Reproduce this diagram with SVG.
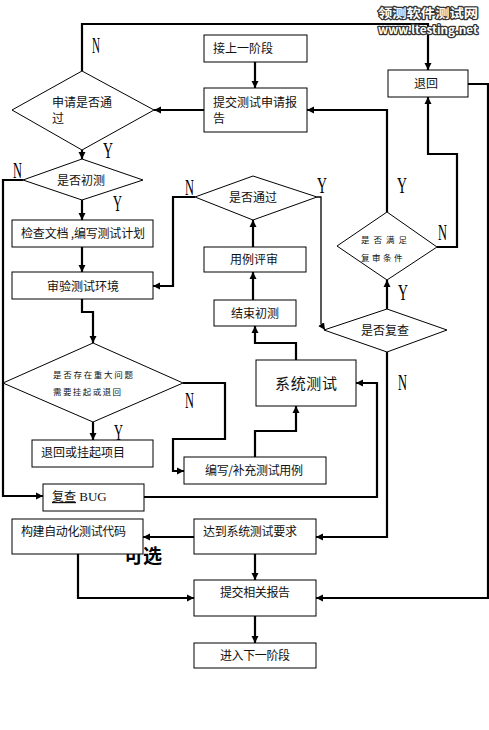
<svg xmlns="http://www.w3.org/2000/svg" width="489" height="730" viewBox="0 0 489 730">
<style>
.bg{fill:#fff}
.box{fill:#fff;stroke:#000;stroke-width:1}
.dia{fill:#fff;stroke:#000;stroke-width:1}
.t{font-family:"Noto Sans CJK SC","Noto Sans CJK JP",sans-serif;font-size:12px;fill:#111}
.ts{font-family:"Noto Sans CJK SC",sans-serif;font-size:8.5px;fill:#111}
.tb{font-family:"Noto Sans CJK SC",sans-serif;font-size:15px;fill:#111}
.c{fill:none;stroke:#000;stroke-width:2.2}
.ct{fill:none;stroke:#000;stroke-width:1.3}
.yn{font-family:"Liberation Serif",serif;font-size:24px;fill:#000}
.wm{font-family:"Noto Sans CJK SC",sans-serif;font-weight:bold;fill:#fff;stroke:#333;stroke-width:2.5;paint-order:stroke;stroke-linejoin:round}
</style>
<defs>
<marker id="ah" markerUnits="userSpaceOnUse" markerWidth="8" markerHeight="8" refX="7" refY="4" orient="auto">
<path d="M0,0.5 L7,4 L0,7.5 z" fill="#000"/>
</marker>
</defs>
<rect class="bg" x="0" y="0" width="489" height="730"/>

<g id="connectors">
<polyline class="c" points="82,71 82,24 428,24 428,70" marker-end="url(#ah)"/>
<polyline class="c" points="255,62 255,88" marker-end="url(#ah)"/>
<polyline class="c" points="204,110 154,110" marker-end="url(#ah)"/>
<polyline class="c" points="82,150 82,159" marker-end="url(#ah)"/>
<polyline class="c" points="23,180 3,180 3,496 43,496" marker-end="url(#ah)"/>
<polyline class="c" points="82,200 82,220" marker-end="url(#ah)"/>
<polyline class="c" points="82,247 82,272" marker-end="url(#ah)"/>
<polyline class="c" points="82,299 82,312 93,312 93,343" marker-end="url(#ah)"/>
<polyline class="c" points="93,422 93,440" marker-end="url(#ah)"/>
<polyline class="c" points="183,383 225,383 225,439 173,439 173,471 184,471" marker-end="url(#ah)"/>
<polyline class="c" points="255,457 255,431 296,431 296,406" marker-end="url(#ah)"/>
<polyline class="c" points="144,497 377,497 377,383 356,383" marker-end="url(#ah)"/>
<polyline class="c" points="296,360 296,343 255,343 255,326" marker-end="url(#ah)"/>
<polyline class="c" points="253,300 253,272" marker-end="url(#ah)"/>
<polyline class="c" points="253,247 253,220" marker-end="url(#ah)"/>
<polyline class="c" points="195,197 173,197 173,286 153,286" marker-end="url(#ah)"/>
<polyline class="ct" points="317,197 321,197 321,324 325,330" marker-end="url(#ah)"/>
<polyline class="c" points="387,309 387,280" marker-end="url(#ah)"/>
<polyline class="c" points="387,212 387,110 307,110" marker-end="url(#ah)"/>
<polyline class="c" points="437,247 457,247 457,154 428,154 428,97" marker-end="url(#ah)"/>
<polyline class="c" points="468,84 488,84 488,598 316,598" marker-end="url(#ah)"/>
<polyline class="c" points="387,352 387,537 316,537" marker-end="url(#ah)"/>
<polyline class="c" points="194,537 143,537" marker-end="url(#ah)"/>
<polyline class="c" points="255,554 255,580" marker-end="url(#ah)"/>
<polyline class="c" points="78,554 78,598 194,598" marker-end="url(#ah)"/>
<polyline class="c" points="255,616 255,643" marker-end="url(#ah)"/>
</g>

<g id="labels">
<text class="yn" x="92" y="53" textLength="8" lengthAdjust="spacingAndGlyphs">N</text>
<text class="yn" x="103" y="158" textLength="10" lengthAdjust="spacingAndGlyphs">Y</text>
<text class="yn" x="13" y="178" textLength="9" lengthAdjust="spacingAndGlyphs">N</text>
<text class="yn" x="113" y="211" textLength="9" lengthAdjust="spacingAndGlyphs">Y</text>
<text class="yn" x="185" y="195" textLength="9" lengthAdjust="spacingAndGlyphs">N</text>
<text class="yn" x="317" y="193" textLength="10" lengthAdjust="spacingAndGlyphs">Y</text>
<text class="yn" x="397" y="193" textLength="10" lengthAdjust="spacingAndGlyphs">Y</text>
<text class="yn" x="438" y="240" textLength="9" lengthAdjust="spacingAndGlyphs">N</text>
<text class="yn" x="398" y="300" textLength="10" lengthAdjust="spacingAndGlyphs">Y</text>
<text class="yn" x="398" y="390" textLength="9" lengthAdjust="spacingAndGlyphs">N</text>
<text class="yn" x="185" y="408" textLength="9" lengthAdjust="spacingAndGlyphs">N</text>
<text class="yn" x="114" y="440" textLength="9" lengthAdjust="spacingAndGlyphs">Y</text>
<text x="124" y="563" font-family="Noto Sans CJK SC,sans-serif" font-weight="bold" font-size="19" fill="#000">可选</text>
</g>

<g id="n-jieshang"><rect class="box" x="204" y="35" width="103" height="27"/><text class="t" x="213" y="53">接上一阶段</text></g>
<g id="n-tijiao-shenqing"><rect class="box" x="204" y="88" width="103" height="44"/><text class="t" x="213" y="107">提交测试申请报</text><text class="t" x="213" y="123">告</text></g>
<g id="n-tuihui"><rect class="box" x="388" y="70" width="80" height="27"/><text class="t" x="414" y="88">退回</text></g>
<g id="n-shenqing-pass"><polygon class="dia" points="82,71 154,110 82,150 12,110"/><text class="t" x="52" y="107">申请是否通</text><text class="t" x="52" y="123">过</text></g>
<g id="n-chuce"><polygon class="dia" points="82,159 143,180 82,200 23,180"/><text class="t" x="57" y="185">是否初测</text></g>
<g id="n-jiancha"><rect class="box" x="12" y="220" width="141" height="27"/><text class="t" x="21" y="238" textLength="124">检查文档 ,编写测试计划</text></g>
<g id="n-shenyan"><rect class="box" x="12" y="272" width="141" height="27"/><text class="t" x="47" y="291">审验测试环境</text></g>
<g id="n-tongguo"><polygon class="dia" points="253,176 317,197 253,220 195,197"/><text class="t" x="229" y="202">是否通过</text></g>
<g id="n-yongli-pingshen"><rect class="box" x="204" y="247" width="102" height="25"/><text class="t" x="230" y="264">用例评审</text></g>
<g id="n-jieshu"><rect class="box" x="214" y="300" width="82" height="26"/><text class="t" x="231" y="318">结束初测</text></g>
<g id="n-manzu"><polygon class="dia" points="387,212 437,247 387,280 337,246"/><text class="ts" x="361" y="243" letter-spacing="4">是否满足</text><text class="ts" x="361" y="261" letter-spacing="2.5">复审条件</text></g>
<g id="n-fucha"><polygon class="dia" points="387,309 447,330 387,352 324,330"/><text class="t" x="361" y="335">是否复查</text></g>
<g id="n-zhongda"><polygon class="dia" points="93,343 183,383 93,422 3,383"/><text class="ts" x="53" y="378" textLength="80">是否存在重大问题</text><text class="ts" x="53" y="395" textLength="68">需要挂起或退回</text></g>
<g id="n-xitong"><rect class="box" x="256" y="360" width="100" height="46"/><text class="tb" x="275" y="389" textLength="62">系统测试</text></g>
<g id="n-tuihui-guaqi"><rect class="box" x="32" y="440" width="121" height="27"/><text class="t" x="41" y="457">退回或挂起项目</text></g>
<g id="n-bianxie"><rect class="box" x="184" y="457" width="142" height="27"/><text class="t" x="205" y="475" textLength="98">编写/补充测试用例</text></g>
<g id="n-fucha-bug"><rect class="box" x="43" y="484" width="101" height="27"/><text x="52" y="501" font-size="12" fill="#111"><tspan font-family="Noto Sans CJK SC,sans-serif" text-decoration="underline">复查</tspan><tspan font-family="Liberation Serif,serif" font-size="13"> BUG</tspan></text></g>
<g id="n-goujian"><rect class="box" x="12" y="519" width="131" height="35"/><text class="t" x="21" y="536" textLength="105">构建自动化测试代码</text></g>
<g id="n-dadao"><rect class="box" x="194" y="519" width="122" height="35"/><text class="t" x="203" y="536" textLength="94">达到系统测试要求</text></g>
<g id="n-tijiao-xiangguan"><rect class="box" x="194" y="580" width="122" height="36"/><text class="t" x="220" y="597" textLength="70">提交相关报告</text></g>
<g id="n-jinru"><rect class="box" x="194" y="643" width="122" height="25"/><text class="t" x="220" y="660" textLength="70">进入下一阶段</text></g>

<g id="watermark">
<text class="wm" x="378" y="18" font-size="12.5" textLength="100" lengthAdjust="spacingAndGlyphs">领测软件测试网</text>
<text class="wm" x="378" y="34" font-size="11.5" font-family="Liberation Sans,sans-serif" textLength="100" lengthAdjust="spacingAndGlyphs">www.ltesting.net</text>
</g>
</svg>
